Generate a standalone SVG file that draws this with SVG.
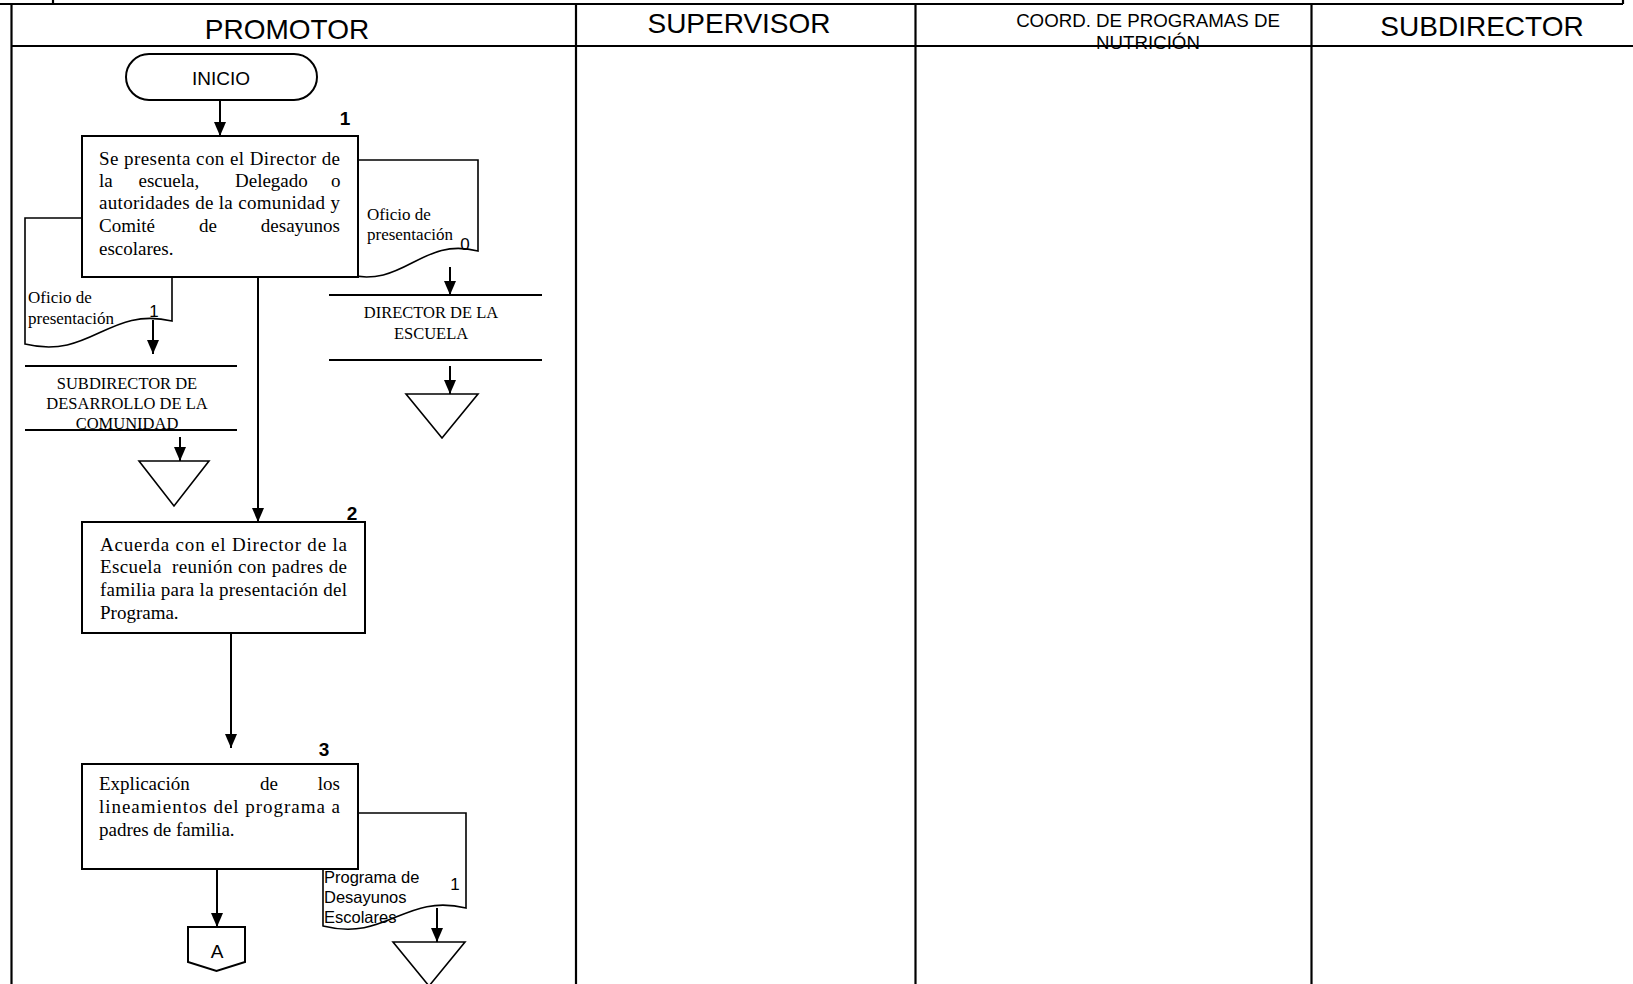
<svg xmlns="http://www.w3.org/2000/svg" width="1633" height="984" viewBox="0 0 1633 984">
<defs>
<marker id="ah" markerUnits="userSpaceOnUse" markerWidth="14" markerHeight="12" refX="14" refY="6" orient="auto" viewBox="0 0 14 12"><path d="M0,0 L14,6 L0,12 z" fill="#000"/></marker>
<style>
.frame{stroke:#000;stroke-width:2.2;fill:none}
.box{fill:#fff;stroke:#000;stroke-width:2}
.doc{fill:#fff;stroke:#000;stroke-width:1.6}
.tri{fill:#fff;stroke:#000;stroke-width:1.6}
.hl{stroke:#000;stroke-width:2;fill:none}
.conn{stroke:#000;stroke-width:2;fill:none;marker-end:url(#ah)}
.hdr{font-family:"Liberation Sans",Arial,sans-serif;font-size:28px;fill:#000;text-anchor:middle}
.hdrs{font-family:"Liberation Sans",Arial,sans-serif;font-size:18.7px;fill:#000;text-anchor:middle}
.body{font-family:"Liberation Serif","Times New Roman",serif;font-size:19px;fill:#000}
.sm{font-family:"Liberation Serif","Times New Roman",serif;font-size:17px;fill:#000}
.dest{font-family:"Liberation Serif","Times New Roman",serif;font-size:16.5px;fill:#000;text-anchor:middle}
.sans{font-family:"Liberation Sans",Arial,sans-serif;font-size:16.5px;fill:#000}
.dn{font-family:"Liberation Sans",Arial,sans-serif;font-size:17px;fill:#000;text-anchor:middle}
.num{font-family:"Liberation Sans",Arial,sans-serif;font-size:19px;font-weight:bold;fill:#000;text-anchor:middle}
.lab{font-family:"Liberation Sans",Arial,sans-serif;font-size:19px;fill:#000;text-anchor:middle}
</style>
</defs>
<rect width="1633" height="984" fill="#fff"/>
<g id="frame">
<line class="frame" x1="0" y1="4" x2="1623" y2="4"/>
<line class="frame" x1="53" y1="0" x2="53" y2="4"/>
<line class="frame" x1="1623" y1="0" x2="1623" y2="4"/>
<line class="frame" x1="11.5" y1="4" x2="11.5" y2="984"/>
<line class="frame" x1="11.5" y1="46" x2="1633" y2="46"/>
<line class="frame" x1="576" y1="4" x2="576" y2="984"/>
<line class="frame" x1="915.5" y1="4" x2="915.5" y2="984"/>
<line class="frame" x1="1311.5" y1="4" x2="1311.5" y2="984"/>
<text class="hdr" x="287" y="39">PROMOTOR</text>
<text class="hdr" x="739" y="33">SUPERVISOR</text>
<text class="hdrs" x="1148" y="27">COORD. DE PROGRAMAS DE</text>
<text class="hdrs" x="1148" y="49">NUTRICIÓN</text>
<text class="hdr" x="1482" y="36">SUBDIRECTOR</text>
</g>
<g id="connectors">
<line class="conn" x1="220" y1="100" x2="220" y2="136"/>
<line class="conn" x1="153" y1="320" x2="153" y2="354"/>
<line class="conn" x1="180" y1="437" x2="180" y2="461"/>
<line class="conn" x1="450" y1="267" x2="450" y2="295"/>
<line class="conn" x1="450" y1="366" x2="450" y2="394"/>
<line class="conn" x1="258" y1="278" x2="258" y2="522"/>
<line class="conn" x1="231" y1="634" x2="231" y2="748"/>
<line class="conn" x1="217" y1="870" x2="217" y2="927"/>
<line class="conn" x1="437" y1="908" x2="437" y2="942"/>
</g>
<g id="inicio">
<rect class="box" x="126" y="54" width="191" height="46" rx="23" ry="23"/>
<text class="lab" x="221" y="85">INICIO</text>
</g>
<g id="doc-oficio-0">
<path class="doc" d="M345,160 H478 V251 C420,236 405,290 345,274 Z"/>
<text class="sm" x="367" y="220">Oficio de</text>
<text class="sm" x="367" y="240">presentación</text>
<text class="dn" x="465" y="250">0</text>
</g>
<g id="doc-oficio-1">
<path class="doc" d="M25,218 H172 V321 C108,306 91,360 25,344 Z"/>
<text class="sm" x="28" y="303">Oficio de</text>
<text class="sm" x="28" y="324">presentación</text>
<text class="dn" x="154" y="317">1</text>
</g>
<g id="step1">
<rect class="box" x="82" y="136" width="276" height="141"/>
<text class="num" x="345" y="125">1</text>
<text class="body" x="99" y="165" textLength="241" lengthAdjust="spacing">Se presenta con el Director de</text>
<text class="body" y="187"><tspan x="99">la</tspan><tspan x="138.5">escuela,</tspan><tspan x="235">Delegado</tspan><tspan x="331">o</tspan></text>
<text class="body" x="99" y="209" textLength="241" lengthAdjust="spacing">autoridades de la comunidad y</text>
<text class="body" y="232"><tspan x="99">Comité</tspan><tspan x="199">de</tspan></text>
<text class="body" x="340" y="232" text-anchor="end">desayunos</text>
<text class="body" x="99" y="255">escolares.</text>
</g>
<g id="dest-subdirector">
<line class="hl" x1="25" y1="366" x2="237" y2="366"/>
<line class="hl" x1="25" y1="430" x2="237" y2="430"/>
<text class="dest" x="127" y="389">SUBDIRECTOR DE</text>
<text class="dest" x="127" y="409">DESARROLLO DE LA</text>
<text class="dest" x="127" y="429">COMUNIDAD</text>
</g>
<g id="archivo-1">
<path class="tri" d="M139,461 H209 L174,506 Z"/>
</g>
<g id="dest-director">
<line class="hl" x1="329" y1="295" x2="542" y2="295"/>
<line class="hl" x1="329" y1="360" x2="542" y2="360"/>
<text class="dest" x="431" y="318">DIRECTOR DE LA</text>
<text class="dest" x="431" y="339">ESCUELA</text>
</g>
<g id="archivo-2">
<path class="tri" d="M406,394 H478 L442,438 Z"/>
</g>
<g id="step2">
<rect class="box" x="82" y="522" width="283" height="111"/>
<text class="num" x="352" y="520">2</text>
<text class="body" x="100" y="551" textLength="247" lengthAdjust="spacing">Acuerda con el Director de la</text>
<text class="body" x="100" y="573" textLength="247" lengthAdjust="spacing" xml:space="preserve">Escuela  reunión con padres de</text>
<text class="body" x="100" y="596" textLength="247" lengthAdjust="spacing">familia para la presentación del</text>
<text class="body" x="100" y="619">Programa.</text>
</g>
<g id="doc-programa">
<path class="doc" d="M323,813 H466 V908 C404,893 387,942 323,926 Z"/>
<text class="sans" x="324" y="883">Programa de</text>
<text class="sans" x="324" y="903">Desayunos</text>
<text class="sans" x="324" y="923">Escolares</text>
<text class="dn" x="455" y="890">1</text>
</g>
<g id="step3">
<rect class="box" x="82" y="764" width="276" height="105"/>
<text class="num" x="324" y="756">3</text>
<text class="body" y="790"><tspan x="99">Explicación</tspan><tspan x="260">de</tspan></text>
<text class="body" x="340" y="790" text-anchor="end">los</text>
<text class="body" x="99" y="813" textLength="241" lengthAdjust="spacing">lineamientos del programa a</text>
<text class="body" x="99" y="836">padres de familia.</text>
</g>
<g id="archivo-3">
<path class="tri" d="M393,942 H465 L429,986 Z"/>
</g>
<g id="conector-a">
<path class="box" d="M188,927 H245 V962 L216.5,971 L188,962 Z"/>
<text class="lab" x="217" y="958">A</text>
</g>
</svg>
